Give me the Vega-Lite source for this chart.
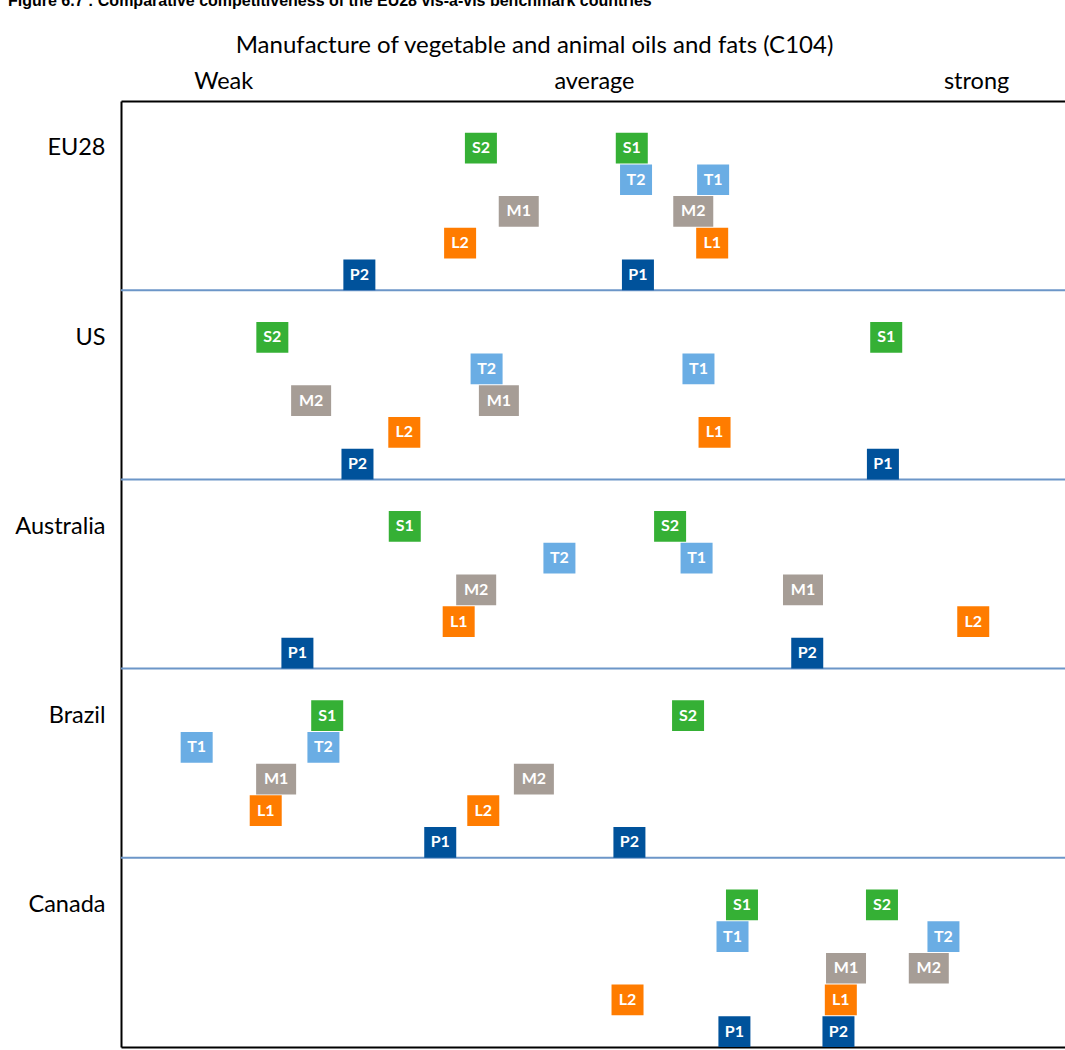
{
  "$schema": "https://vega.github.io/schema/vega-lite/v6.json",
  "width": 944,
  "height": 946,
  "autosize": {"type": "none"},
  "padding": {"left": 121, "top": 101, "right": 0, "bottom": 3},
  "background": "white",
  "title": {
    "text": "Figure 6.7 : Comparative competitiveness of the EU28 vis-à-vis benchmark countries",
    "anchor": "start",
    "frame": "group",
    "dx": -113,
    "offset": 24,
    "font": "Liberation Sans",
    "fontSize": 16,
    "fontWeight": "bold",
    "color": "black"
  },
  "config": {
    "view": {"stroke": null},
    "font": "Lato",
    "axis": {
      "domainColor": "black",
      "domainWidth": 2,
      "ticks": false,
      "tickSize": 0,
      "grid": false,
      "labelColor": "black",
      "labelFont": "Lato",
      "titleFont": "Lato",
      "titleColor": "black"
    },
    "axisLeft": {
      "labelFontSize": 23.5,
      "labelFontWeight": "normal",
      "labelOffset": -47.3,
      "labelPadding": 16,
      "labelAngle": 0
    },
    "axisTop": {
      "labelFontSize": 23.5,
      "labelPadding": 8,
      "titleFontSize": 24,
      "titleFontWeight": "normal",
      "titlePadding": 12,
      "titleX": 413,
      "titleAnchor": "middle"
    }
  },
  "datasets": {
    "boxes": [
      {"country": "EU28", "ind": "S", "code": "S2", "score": -23.9},
      {"country": "EU28", "ind": "S", "code": "S1", "score": 8.0},
      {"country": "EU28", "ind": "T", "code": "T2", "score": 8.9},
      {"country": "EU28", "ind": "T", "code": "T1", "score": 25.2},
      {"country": "EU28", "ind": "M", "code": "M1", "score": -15.9},
      {"country": "EU28", "ind": "M", "code": "M2", "score": 21.0},
      {"country": "EU28", "ind": "L", "code": "L2", "score": -28.3},
      {"country": "EU28", "ind": "L", "code": "L1", "score": 25.0},
      {"country": "EU28", "ind": "P", "code": "P2", "score": -49.6},
      {"country": "EU28", "ind": "P", "code": "P1", "score": 9.3},
      {"country": "US", "ind": "S", "code": "S2", "score": -68.0},
      {"country": "US", "ind": "S", "code": "S1", "score": 61.8},
      {"country": "US", "ind": "T", "code": "T2", "score": -22.7},
      {"country": "US", "ind": "T", "code": "T1", "score": 22.1},
      {"country": "US", "ind": "M", "code": "M2", "score": -59.8},
      {"country": "US", "ind": "M", "code": "M1", "score": -20.1},
      {"country": "US", "ind": "L", "code": "L2", "score": -40.1},
      {"country": "US", "ind": "L", "code": "L1", "score": 25.5},
      {"country": "US", "ind": "P", "code": "P2", "score": -50.0},
      {"country": "US", "ind": "P", "code": "P1", "score": 61.1},
      {"country": "Australia", "ind": "S", "code": "S1", "score": -40.0},
      {"country": "Australia", "ind": "S", "code": "S2", "score": 16.1},
      {"country": "Australia", "ind": "T", "code": "T2", "score": -7.3},
      {"country": "Australia", "ind": "T", "code": "T1", "score": 21.7},
      {"country": "Australia", "ind": "M", "code": "M2", "score": -24.9},
      {"country": "Australia", "ind": "M", "code": "M1", "score": 44.2},
      {"country": "Australia", "ind": "L", "code": "L1", "score": -28.6},
      {"country": "Australia", "ind": "L", "code": "L2", "score": 80.2},
      {"country": "Australia", "ind": "P", "code": "P1", "score": -62.7},
      {"country": "Australia", "ind": "P", "code": "P2", "score": 45.1},
      {"country": "Brazil", "ind": "S", "code": "S1", "score": -56.4},
      {"country": "Brazil", "ind": "S", "code": "S2", "score": 19.9},
      {"country": "Brazil", "ind": "T", "code": "T1", "score": -84.0},
      {"country": "Brazil", "ind": "T", "code": "T2", "score": -57.2},
      {"country": "Brazil", "ind": "M", "code": "M1", "score": -67.2},
      {"country": "Brazil", "ind": "M", "code": "M2", "score": -12.7},
      {"country": "Brazil", "ind": "L", "code": "L1", "score": -69.4},
      {"country": "Brazil", "ind": "L", "code": "L2", "score": -23.4},
      {"country": "Brazil", "ind": "P", "code": "P1", "score": -32.5},
      {"country": "Brazil", "ind": "P", "code": "P2", "score": 7.5},
      {"country": "Canada", "ind": "S", "code": "S1", "score": 31.3},
      {"country": "Canada", "ind": "S", "code": "S2", "score": 60.9},
      {"country": "Canada", "ind": "T", "code": "T1", "score": 29.3},
      {"country": "Canada", "ind": "T", "code": "T2", "score": 73.9},
      {"country": "Canada", "ind": "M", "code": "M1", "score": 53.3},
      {"country": "Canada", "ind": "M", "code": "M2", "score": 70.8},
      {"country": "Canada", "ind": "L", "code": "L2", "score": 7.1},
      {"country": "Canada", "ind": "L", "code": "L1", "score": 52.2},
      {"country": "Canada", "ind": "P", "code": "P1", "score": 29.7},
      {"country": "Canada", "ind": "P", "code": "P2", "score": 51.7}
    ],
    "separators": [
      {"country": "US"},
      {"country": "Australia"},
      {"country": "Brazil"},
      {"country": "Canada"}
    ]
  },
  "layer": [
    {
      "data": {"name": "separators"},
      "mark": {"type": "rule", "color": "#6C96C8", "strokeWidth": 2},
      "encoding": {
        "y": {
          "field": "country",
          "type": "nominal",
          "bandPosition": 0,
          "title": null,
          "scale": {"type": "band", "domain": ["EU28", "US", "Australia", "Brazil", "Canada"], "paddingInner": 0, "paddingOuter": 0}
        }
      }
    },
    {
      "mark": {"type": "rule", "color": "#7F7F7F", "strokeWidth": 1.3},
      "encoding": {
        "x": {
          "datum": 0,
          "type": "quantitative",
          "scale": {"domain": [-100, 99.6]},
          "axis": {"orient": "bottom", "labels": false, "title": null, "domain": true}
        }
      }
    },
    {
      "data": {"name": "boxes"},
      "transform": [{"filter": "datum.ind !== 'M'"}],
      "mark": {"type": "rect", "width": 32},
      "encoding": {
        "x": {
          "field": "score",
          "type": "quantitative",
          "scale": {"domain": [-100, 99.6]},
          "axis": {
            "orient": "top",
            "values": [-78.4, 0, 80.8],
            "labelExpr": "datum.value < -50 ? 'Weak' : (datum.value > 50 ? 'strong' : 'average')",
            "title": "Manufacture of vegetable and animal oils and fats (C104)"
          }
        },
        "y": {
          "field": "country",
          "type": "nominal",
          "title": null,
          "scale": {"type": "band", "domain": ["EU28", "US", "Australia", "Brazil", "Canada"], "paddingInner": 0, "paddingOuter": 0}
        },
        "yOffset": {
          "field": "ind",
          "type": "nominal",
          "scale": {"type": "band", "domain": ["_", "S", "T", "M", "L", "P"], "paddingInner": 0.03, "paddingOuter": 0}
        },
        "color": {
          "field": "ind",
          "type": "nominal",
          "legend": null,
          "scale": {"domain": ["S", "T", "M", "L", "P"], "range": ["#35B035", "#6AADE4", "#A69D96", "#FF7C00", "#00529B"]}
        }
      }
    },
    {
      "data": {"name": "boxes"},
      "transform": [{"filter": "datum.ind === 'M'"}],
      "mark": {"type": "rect", "width": 40},
      "encoding": {
        "x": {"field": "score", "type": "quantitative", "scale": {"domain": [-100, 99.6]}, "axis": null},
        "y": {
          "field": "country",
          "type": "nominal",
          "title": null,
          "scale": {"type": "band", "domain": ["EU28", "US", "Australia", "Brazil", "Canada"], "paddingInner": 0, "paddingOuter": 0}
        },
        "yOffset": {
          "field": "ind",
          "type": "nominal",
          "scale": {"type": "band", "domain": ["_", "S", "T", "M", "L", "P"], "paddingInner": 0.03, "paddingOuter": 0}
        },
        "color": {
          "field": "ind",
          "type": "nominal",
          "legend": null,
          "scale": {"domain": ["S", "T", "M", "L", "P"], "range": ["#35B035", "#6AADE4", "#A69D96", "#FF7C00", "#00529B"]}
        }
      }
    },
    {
      "data": {"name": "boxes"},
      "mark": {"type": "text", "color": "white", "font": "Lato", "fontWeight": "bold", "fontSize": 16, "align": "center", "baseline": "middle"},
      "encoding": {
        "x": {"field": "score", "type": "quantitative", "scale": {"domain": [-100, 99.6]}, "axis": null},
        "y": {
          "field": "country",
          "type": "nominal",
          "title": null,
          "scale": {"type": "band", "domain": ["EU28", "US", "Australia", "Brazil", "Canada"], "paddingInner": 0, "paddingOuter": 0}
        },
        "yOffset": {
          "field": "ind",
          "type": "nominal",
          "scale": {"type": "band", "domain": ["_", "S", "T", "M", "L", "P"], "paddingInner": 0.03, "paddingOuter": 0}
        },
        "text": {"field": "code", "type": "nominal"}
      }
    }
  ]
}
